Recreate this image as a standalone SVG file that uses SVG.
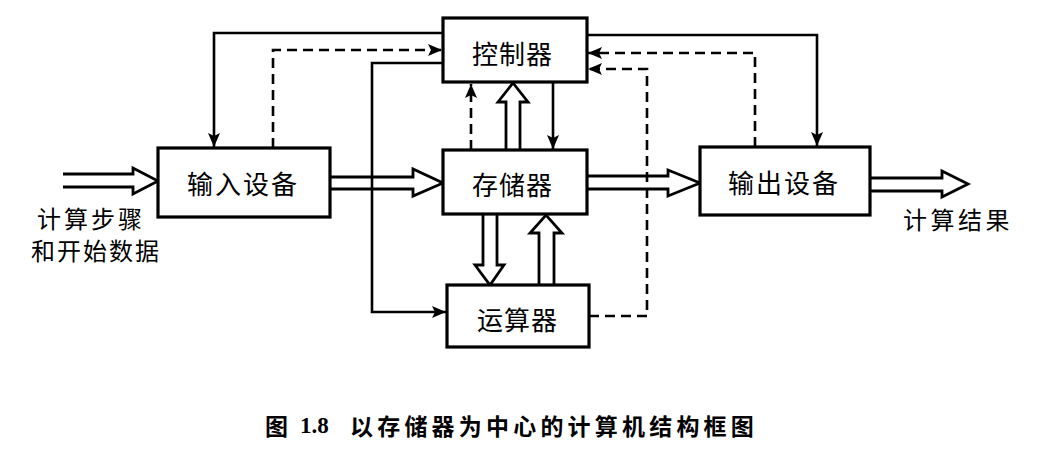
<svg xmlns="http://www.w3.org/2000/svg" width="1038" height="454" viewBox="0 0 1038 454">
<style>
.box{fill:#fff;stroke:#000;stroke-width:3.2}
.t{font-family:"Noto Sans CJK SC","Noto Sans",sans-serif;font-size:26px;fill:#000;dominant-baseline:central}
.lbl{font-family:"Noto Sans CJK SC","Noto Sans",sans-serif;font-size:24px;fill:#000;dominant-baseline:central}
.ln{fill:none;stroke:#000;stroke-width:2.6}
.dash{fill:none;stroke:#000;stroke-width:2.6;stroke-dasharray:10 6}
.hol{fill:#fff;stroke:#000;stroke-width:2.8;stroke-linejoin:miter}
.cap{font-family:"Noto Sans CJK SC","Noto Sans",sans-serif;font-size:23px;font-weight:bold;fill:#000;dominant-baseline:central}
</style>
<defs>
<marker id="ah" viewBox="0 0 14 12" refX="14" refY="6" markerWidth="14" markerHeight="12" markerUnits="userSpaceOnUse" orient="auto">
<path d="M0,0 L14,6 L0,12 L3,6 z" fill="#000"/>
</marker>
</defs>
<rect width="1038" height="454" fill="#fff"/>
<g id="connectors">
<path class="hol" d="M63,174 L133,174 L133,168 L158,181 L133,194 L133,187 L63,187"/>
<path class="hol" d="M331,177 L413,177 L413,169 L443,183 L413,196 L413,189 L331,189"/>
<path class="hol" d="M588,176 L668,176 L668,170 L700,183 L668,196 L668,189 L588,189"/>
<path class="hol" d="M871,178 L942,178 L942,171 L968,184 L942,197 L942,191 L871,191"/>
<path class="hol" d="M506,150 L506,102 L498,102 L513,83 L528,102 L520,102 L520,150"/>
<path class="hol" d="M483,215 L483,265 L475,265 L490,285 L504,265 L497,265 L497,215"/>
<path class="hol" d="M539,285 L539,233 L530,233 L546,215 L562,233 L554,233 L554,285"/>
<path class="dash" d="M471,150 L471,84" marker-end="url(#ah)"/>
<path class="ln" d="M553,83 L553,149" marker-end="url(#ah)"/>
<path class="ln" d="M443,33 L214,33 L214,147" marker-end="url(#ah)"/>
<path class="dash" d="M273,148 L273,50 L442,50" marker-end="url(#ah)"/>
<path class="ln" d="M443,63 L372,63 L372,312 L446,312" marker-end="url(#ah)"/>
<path class="ln" d="M587,35 L817,35 L817,146" marker-end="url(#ah)"/>
<path class="dash" d="M755,147 L755,53 L588,53" marker-end="url(#ah)"/>
<path class="dash" d="M589,316 L647,316 L647,69 L588,69" marker-end="url(#ah)"/>
</g>
<g id="controller">
<rect class="box" x="443" y="18" width="144" height="64"/>
<text class="t" x="472" y="52" letter-spacing="1">控制器</text>
</g>
<g id="input">
<rect class="box" x="158" y="148" width="172" height="69"/>
<text class="t" x="187" y="182" letter-spacing="2">输入设备</text>
</g>
<g id="memory">
<rect class="box" x="443" y="150" width="144" height="64"/>
<text class="t" x="472" y="183" letter-spacing="1">存储器</text>
</g>
<g id="output">
<rect class="box" x="700" y="147" width="170" height="68"/>
<text class="t" x="728" y="181" letter-spacing="2">输出设备</text>
</g>
<g id="alu">
<rect class="box" x="447" y="285" width="142" height="62"/>
<text class="t" x="477" y="318" letter-spacing="1">运算器</text>
</g>
<g id="labels">
<text class="lbl" x="37" y="217" letter-spacing="3">计算步骤</text>
<text class="lbl" x="31" y="249" letter-spacing="2">和开始数据</text>
<text class="lbl" x="903" y="218" letter-spacing="3.5">计算结果</text>
</g>
<g id="caption">
<text class="cap" x="265" y="425">图</text>
<text class="cap" x="300" y="425" style="font-family:'Liberation Serif',serif">1.8</text>
<text class="cap" x="350" y="425" letter-spacing="4.2">以存储器为中心的计算机结构框图</text>
</g>
</svg>
